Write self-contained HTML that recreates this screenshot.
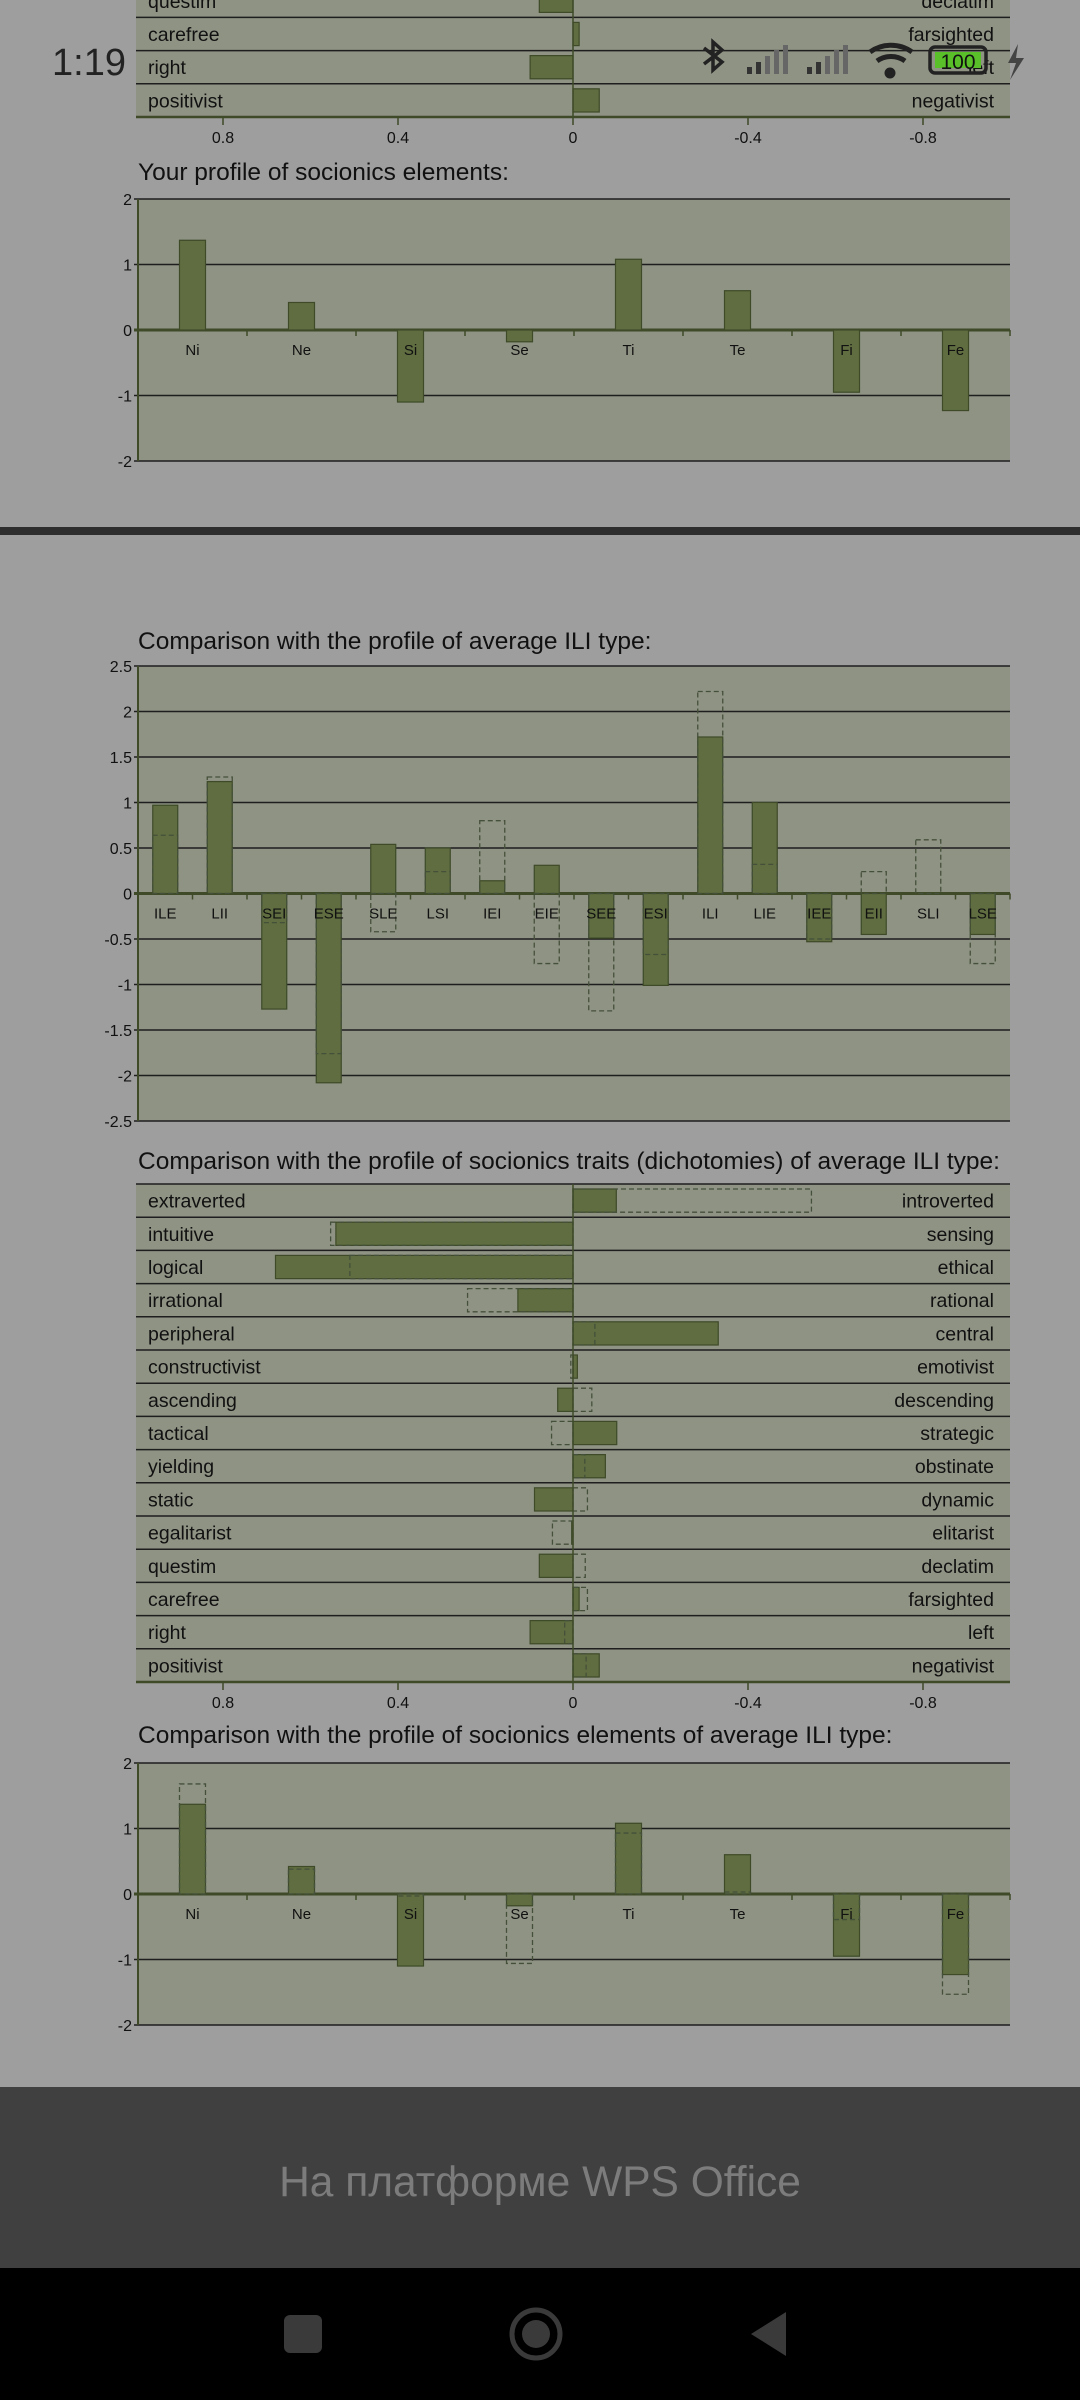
<!DOCTYPE html>
<html><head><meta charset="utf-8">
<style>
html,body{margin:0;padding:0;width:1080px;height:2400px;overflow:hidden;background:#9e9e9e;}
svg{display:block;font-family:"Liberation Sans",Arial,sans-serif;}
</style></head>
<body>
<svg id="s" width="1080" height="2400" viewBox="0 0 1080 2400" xmlns="http://www.w3.org/2000/svg">
<rect x="0" y="0" width="1080" height="2400" fill="#9e9e9e"/>
<g id="g"></g>
</svg>
<script>
// ---- data ----
const traitLeft = ["extraverted","intuitive","logical","irrational","peripheral","constructivist","ascending","tactical","yielding","static","egalitarist","questim","carefree","right","positivist"];
const traitRight = ["introverted","sensing","ethical","rational","central","emotivist","descending","strategic","obstinate","dynamic","elitarist","declatim","farsighted","left","negativist"];
const traitUser = [-0.099,0.542,0.680,0.126,-0.332,-0.010,0.035,-0.100,-0.074,0.088,0.003,0.077,-0.014,0.098,-0.060];
const traitAvg = [-0.545,0.554,0.510,0.241,-0.050,0.005,-0.043,0.049,-0.027,-0.033,0.047,-0.028,-0.033,0.019,-0.030];
const traitTicks = [0.8,0.4,0,-0.4,-0.8];

const elemCats = ["Ni","Ne","Si","Se","Ti","Te","Fi","Fe"];
const elemUser = [1.37,0.42,-1.10,-0.18,1.08,0.60,-0.95,-1.23];
const elemAvg = [1.68,0.38,-0.03,-1.06,0.93,0.03,-0.39,-1.53];
const elemTicks = [2,1,0,-1,-2];

const typeCats = ["ILE","LII","SEI","ESE","SLE","LSI","IEI","EIE","SEE","ESI","ILI","LIE","IEE","EII","SLI","LSE"];
const typeUser = [0.97,1.23,-1.27,-2.08,0.54,0.50,0.14,0.31,-0.49,-1.01,1.72,1.00,-0.53,-0.45,-0.01,-0.45];
const typeAvg = [0.64,1.28,-0.32,-1.76,-0.42,0.24,0.80,-0.77,-1.29,-0.67,2.22,0.32,-0.50,0.24,0.59,-0.77];
const typeTicks = [2.5,2,1.5,1,0.5,0,-0.5,-1,-1.5,-2,-2.5];

// ---- helpers ----
const NS="http://www.w3.org/2000/svg";
const G=document.getElementById('g');
function mk(tag,attrs,parent,txt){const e=document.createElementNS(NS,tag);for(const k in attrs)e.setAttribute(k,attrs[k]);if(txt!==undefined)e.textContent=txt;(parent||G).appendChild(e);return e;}
const BAR="#5f6d40",BARS="#3e4a28",PLOT="#8f9384",GRID="#1e1e1e",DASH="#45503a";
const X0=138,X1=1010;

function vbarChart(name,cats,user,avg,ticks,yTop,yBot,vmax,vmin,bw){
  const g=mk('g',{});
  
  
  const y=v=>yTop+(vmax-v)/(vmax-vmin)*(yBot-yTop);
  const bg=mk('rect',{x:X0,y:yTop,width:X1-X0,height:yBot-yTop,fill:PLOT},g);
  
  
  ticks.forEach(t=>{
    const ln=mk('line',{x1:X0-4,x2:X1,y1:y(t),y2:y(t),stroke:t===0?"#3e4a28":GRID,'stroke-width':t===0?3:1.5},g);
    
    
    const tx=mk('text',{x:X0-6,y:y(t)+6,'text-anchor':'end','font-size':16,fill:'#111'},g,String(t));
    
    
  });
  mk('line',{x1:X0,x2:X0,y1:yTop,y2:yBot,stroke:'#3e4a28','stroke-width':2},g);
  const cw=(X1-X0)/cats.length;
  const y0=y(0);
  cats.forEach((c,i)=>{
    const cx=X0+cw*(i+0.5);
    mk('line',{x1:X0+cw*(i+1),x2:X0+cw*(i+1),y1:y0,y2:y0+6,stroke:'#3e4a28','stroke-width':1.5},g);
    const v=user[i];
    const b=mk('rect',{x:cx-bw/2,y:Math.min(y(v),y0),width:bw,height:Math.abs(y(v)-y0),fill:BAR,stroke:BARS,'stroke-width':1.2},g);
    
    
    if(avg){
      const a=avg[i];
      const d=mk('rect',{x:cx-bw/2,y:Math.min(y(a),y0),width:bw,height:Math.abs(y(a)-y0),fill:'none',stroke:DASH,'stroke-width':1.3,'stroke-dasharray':'5,3'},g);
      
      
    }
    const l=mk('text',{x:cx,y:y0+25,'text-anchor':'middle','font-size':15,fill:'#111'},g,c);
    
    
  });
}

function traitChart(name,user,avg,yTop,rowH){
  const g=mk('g',{});
  
  
  const zx=573,k=175/0.4;
  const x=v=>zx-v*k;
  const yBot=yTop+rowH*traitLeft.length;
  mk('rect',{x:X0-2,y:yTop,width:X1-X0+2,height:yBot-yTop,fill:PLOT},g);
  traitLeft.forEach((lab,i)=>{
    const ry=yTop+rowH*i;
    mk('line',{x1:X0-2,x2:X1,y1:ry,y2:ry,stroke:GRID,'stroke-width':1.5},g);
    const v=user[i];
    const b=mk('rect',{x:Math.min(x(v),zx),y:ry+5,width:Math.abs(x(v)-zx),height:rowH-10,fill:BAR,stroke:BARS,'stroke-width':1.2},g);
    
    
    if(avg){
      const a=avg[i];
      const d=mk('rect',{x:Math.min(x(a),zx),y:ry+5,width:Math.abs(x(a)-zx),height:rowH-10,fill:'none',stroke:DASH,'stroke-width':1.3,'stroke-dasharray':'5,3'},g);
      
      
    }
    const t1=mk('text',{x:148,y:ry+rowH/2+7,'font-size':19.5,fill:'#111'},g,lab);
    
    
    const t2=mk('text',{x:994,y:ry+rowH/2+7,'text-anchor':'end','font-size':19.5,fill:'#111'},g,traitRight[i]);
    
    
  });
  mk('line',{x1:X0-2,x2:X1,y1:yBot,y2:yBot,stroke:'#3e4a28','stroke-width':2.5},g);
  mk('line',{x1:zx,x2:zx,y1:yTop,y2:yBot,stroke:'#3e4a28','stroke-width':1.5},g);
  traitTicks.forEach(t=>{
    mk('line',{x1:x(t),x2:x(t),y1:yBot,y2:yBot+8,stroke:'#3e4a28','stroke-width':1.5},g);
    const tl=mk('text',{x:x(t),y:yBot+26,'text-anchor':'middle','font-size':16,fill:'#111'},g,String(t));
    
    
  });
}

function title(txt,y,name){
  const t=mk('text',{x:138,y:y,'font-size':24.5,fill:'#111'},G,txt);
  
  
}

// ---- draw ----
traitChart('traits-chart-top',traitUser,null,117-33.2*15,33.2);
title('Your profile of socionics elements:',180,'elements-title');
vbarChart('elements-chart',elemCats,elemUser,null,elemTicks,199,461,2,-2,26);

const sep=mk('rect',{x:0,y:527,width:1080,height:8,fill:'#2e2e2e'});



title('Comparison with the profile of average ILI type:',649,'types-title');
vbarChart('types-chart',typeCats,typeUser,typeAvg,typeTicks,666,1121,2.5,-2.5,25);

title('Comparison with the profile of socionics traits (dichotomies) of average ILI type:',1169,'traits-title');
traitChart('traits-chart',traitUser,traitAvg,1184,33.2);

title('Comparison with the profile of socionics elements of average ILI type:',1743,'elements-compare-title');
vbarChart('elements-compare-chart',elemCats,elemUser,elemAvg,elemTicks,1763,2025,2,-2,26);
</script>
<svg style="position:absolute;left:0;top:0" width="1080" height="2400" xmlns="http://www.w3.org/2000/svg">
  <g font-family="Liberation Sans, sans-serif">
    <text x="52" y="75" font-size="38" fill="#222">1:19</text>
    <g stroke="#222" stroke-width="3.5" fill="none">
      <path d="M704 48 L722 62 L713 70 L713 42 L722 50 L704 64"/>
    </g>
    <g fill="#333">
      <rect x="747" y="67" width="5" height="7"/><rect x="756" y="62" width="5" height="12"/>
      <rect x="765" y="56" width="5" height="18" fill="#666"/><rect x="774" y="50" width="5" height="24" fill="#666"/>
      <rect x="783" y="45" width="5" height="29" fill="#666"/>
    </g>
    <g fill="#333">
      <rect x="807" y="67" width="5" height="7"/><rect x="816" y="62" width="5" height="12"/>
      <rect x="825" y="56" width="5" height="18" fill="#666"/><rect x="834" y="50" width="5" height="24" fill="#666"/>
      <rect x="843" y="45" width="5" height="29" fill="#666"/>
    </g>
    <g fill="none" stroke="#222" stroke-width="5">
      <path d="M870 52 A36 36 0 0 1 912 52"/><path d="M877 61 A24 24 0 0 1 905 61"/>
      <circle cx="890" cy="73" r="3" fill="#222"/>
    </g>
    <g>
      <rect x="930" y="47" width="56" height="26" rx="5" fill="none" stroke="#222" stroke-width="3.5"/>
      <rect x="935" y="52" width="46" height="16" fill="#5ac02a"/>
      <text x="958" y="69" font-size="21" text-anchor="middle" fill="#111">100</text>
      <path d="M1018 44 L1008 63 L1016 63 L1010 80 L1024 58 L1016 58 Z" fill="#444"/>
    </g>
  </g>
  <rect x="0" y="2087" width="1080" height="181" fill="#404040"/>
  <text x="540" y="2196" text-anchor="middle" font-family="Liberation Sans, sans-serif" font-size="42.5" fill="#7c7c7c">На платформе WPS Office</text>
  <rect x="0" y="2268" width="1080" height="132" fill="#000"/>
  <rect x="284" y="2315" width="38" height="38" rx="6" fill="#3a3a3a"/>
  <circle cx="536" cy="2334" r="24" fill="none" stroke="#3a3a3a" stroke-width="5"/>
  <circle cx="536" cy="2334" r="14" fill="#3a3a3a"/>
  <path d="M786 2312 L786 2356 L751 2334 Z" fill="#3a3a3a"/>
</svg>
</body></html>
